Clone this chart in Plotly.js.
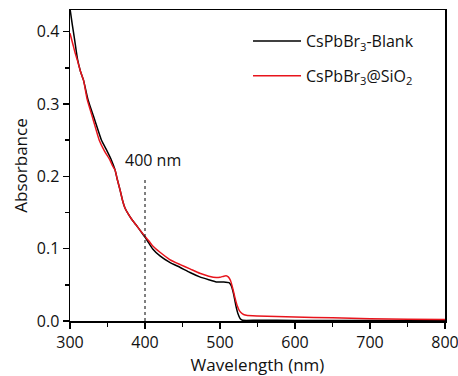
<!DOCTYPE html>
<html>
<head>
<meta charset="utf-8">
<script src="https://cdn.plot.ly/plotly-3.0.1.min.js"></script>
<style>html,body{margin:0;padding:0;background:#fff;}#chart{width:458px;height:376px;}</style>
</head>
<body>
<div id="chart"></div>
<script>
// CsPbBr3-Blank
const blankX = [300,303,306,310,314,318,324,333,342,348,355,360,363,367,370,373,377,382,388,393,400,405,410,420,433,447,460,473,485,495,505,512,515,518,521,524,527,530,550,600,700,800];
const blankY = [0.432,0.410,0.390,0.362,0.345,0.333,0.306,0.278,0.250,0.238,0.223,0.209,0.196,0.180,0.167,0.157,0.149,0.141,0.133,0.126,0.116,0.108,0.100,0.090,0.081,0.074,0.067,0.061,0.057,0.054,0.054,0.053,0.049,0.038,0.022,0.010,0.003,0.001,0.001,0.0008,0.0006,0.0005];
// CsPbBr3@SiO2
const silicaX = [300,304,307,310,314,318,323,331,339,346,353,357,360,363,367,370,373,377,382,388,393,400,405,410,420,433,447,460,473,485,495,500,505,508,511,514,517,520,523,526,530,535,550,600,650,700,750,800];
const silicaY = [0.398,0.382,0.370,0.360,0.345,0.333,0.306,0.278,0.250,0.235,0.223,0.214,0.209,0.196,0.180,0.167,0.157,0.149,0.141,0.133,0.126,0.117,0.111,0.104,0.095,0.085,0.078,0.072,0.066,0.062,0.060,0.0605,0.062,0.0625,0.061,0.056,0.045,0.032,0.021,0.014,0.010,0.008,0.007,0.0055,0.0045,0.003,0.0025,0.002];
const seriesNames = ['CsPbBr<sub>3</sub>-Blank', 'CsPbBr<sub>3</sub>@SiO<sub>2</sub>'];
const markerWavelength = [400];
const markerTop = [0.198];
const markerLabel = '400 nm';

const traces = [
  {x: blankX, y: blankY, type: 'scatter', mode: 'lines', name: seriesNames[0], legendgroup: 'a',
   line: {color: '#000000', width: 1.5, shape: 'spline', smoothing: 0.5}},
  {x: silicaX, y: silicaY, type: 'scatter', mode: 'lines', name: seriesNames[1], legendgroup: 'b',
   line: {color: '#e8141c', width: 1.5, shape: 'spline', smoothing: 0.5}}
];

const fontFam = '"Open Sans", "DejaVu Sans", sans-serif';
const layout = {
  width: 458, height: 376,
  margin: {l: 70, r: 13, t: 10, b: 55},
  paper_bgcolor: '#fff', plot_bgcolor: '#fff',
  font: {family: fontFam, size: 16, color: '#111'},
  showlegend: true,
  legend: {x: 0.4747, y: 0.955, xanchor: 'left', yanchor: 'top', bgcolor: 'rgba(0,0,0,0)',
           font: {family: fontFam, size: 16, color: '#111'}, itemwidth: 48, tracegroupgap: 11},
  xaxis: {
    range: [300, 800], dtick: 100, tick0: 300,
    showline: true, linecolor: '#000', linewidth: 1.5, mirror: true,
    ticks: 'outside', ticklen: 6, tickwidth: 1.5, tickcolor: '#000',
    minor: {dtick: 50, ticks: 'outside', ticklen: 4, tickwidth: 1.5, tickcolor: '#000', showgrid: false},
    showgrid: false, zeroline: false, ticklabeloverflow: 'allow',
    tickfont: {family: fontFam, size: 16, color: '#111'},
    title: {text: 'Wavelength (nm)', font: {family: fontFam, size: 17, color: '#111'}, standoff: 3}
  },
  yaxis: {
    range: [0, 0.43], dtick: 0.1, tick0: 0, tickformat: '.1f',
    showline: true, linecolor: '#000', linewidth: 1.5, mirror: true,
    ticks: 'outside', ticklen: 6, tickwidth: 1.5, tickcolor: '#000',
    minor: {dtick: 0.05, ticks: 'outside', ticklen: 4, tickwidth: 1.5, tickcolor: '#000', showgrid: false},
    showgrid: false, zeroline: false,
    tickfont: {family: fontFam, size: 16, color: '#111'},
    title: {text: 'Absorbance', font: {family: fontFam, size: 17, color: '#111'}, standoff: 5}
  },
  shapes: [{type: 'line', xref: 'x', yref: 'y', x0: markerWavelength[0], x1: markerWavelength[0],
            y0: 0, y1: markerTop[0], line: {color: '#000', width: 1, dash: 'dot'}}],
  annotations: [{xref: 'x', yref: 'y', x: 411, y: 0.222, text: markerLabel, showarrow: false,
                 font: {family: fontFam, size: 16, color: '#111'}}]
};

Plotly.newPlot('chart', traces, layout, {displayModeBar: false, staticPlot: true});
</script>
</body>
</html>
